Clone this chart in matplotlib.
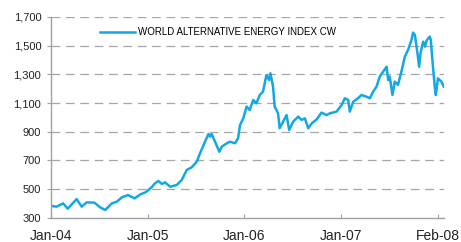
import numpy as np
import matplotlib
matplotlib.use("Agg")
import matplotlib.pyplot as plt

plt.rcParams['font.family'] = ['Liberation Sans', 'DejaVu Sans']

# index level
dates = [
    "2004-01-03", "2004-01-22", "2004-02-16", "2004-03-04", "2004-04-07", "2004-04-26",
    "2004-05-15", "2004-06-13", "2004-07-05", "2004-07-24", "2004-08-18", "2004-09-06",
    "2004-09-25", "2004-10-18", "2004-11-12", "2004-12-04", "2004-12-23",
    "2005-01-15", "2005-01-28", "2005-02-10", "2005-02-23", "2005-03-07", "2005-03-26",
    "2005-04-20", "2005-05-09", "2005-05-28", "2005-06-16", "2005-07-05", "2005-07-17",
    "2005-08-05", "2005-08-18", "2005-08-24", "2005-08-30", "2005-09-12", "2005-09-28",
    "2005-10-07", "2005-10-26", "2005-11-07", "2005-11-26", "2005-12-08", "2005-12-15",
    "2005-12-28",
    "2006-01-09", "2006-01-21", "2006-02-03", "2006-02-15", "2006-02-28", "2006-03-12",
    "2006-03-25", "2006-04-04", "2006-04-09", "2006-04-19", "2006-04-25", "2006-05-02",
    "2006-05-08", "2006-05-14", "2006-05-27", "2006-06-09", "2006-06-19", "2006-07-04",
    "2006-07-23", "2006-08-05", "2006-08-17", "2006-08-30", "2006-09-12", "2006-10-01",
    "2006-10-19", "2006-11-07", "2006-11-20", "2006-12-15",
    "2007-01-03", "2007-01-15", "2007-01-28", "2007-02-03", "2007-02-16", "2007-03-06",
    "2007-03-19", "2007-04-07", "2007-04-20", "2007-05-02", "2007-05-15", "2007-05-27",
    "2007-06-09", "2007-06-22", "2007-06-28", "2007-07-04", "2007-07-14", "2007-07-23",
    "2007-08-04", "2007-08-17", "2007-08-30", "2007-09-11", "2007-09-24", "2007-09-30",
    "2007-10-07", "2007-10-15", "2007-10-23", "2007-10-28", "2007-11-07", "2007-11-14",
    "2007-11-20", "2007-12-02", "2007-12-06", "2007-12-12", "2007-12-21", "2007-12-25",
    "2008-01-02", "2008-01-15", "2008-01-24",
]
values = [
    382, 377, 400, 363, 430, 377,
    407, 405, 372, 354, 400, 412,
    442, 458, 435, 463, 477,
    512, 540, 556, 535, 547, 516,
    528, 563, 633, 652, 691, 749,
    830, 884, 865, 884, 830, 760,
    795, 819, 830, 819, 854, 945,
    995,
    1075, 1051, 1121, 1098, 1156, 1179,
    1295, 1260, 1307, 1214, 1075, 1051,
    1028, 924, 970, 1016, 912, 970,
    1005, 982, 993, 924, 958, 986,
    1033, 1016, 1028, 1040,
    1086, 1133, 1121, 1040, 1109, 1133,
    1156, 1144, 1133, 1179, 1214, 1284,
    1319, 1353, 1260, 1284, 1156, 1249,
    1226, 1319, 1423, 1470, 1540, 1591,
    1574, 1470, 1353, 1447, 1528, 1493,
    1535, 1563, 1540, 1400, 1214, 1156,
    1272, 1249, 1214,
]
series_name = "WORLD ALTERNATIVE ENERGY INDEX CW"

tick_dates = ["2004-01-01", "2005-01-01", "2006-01-01", "2007-01-01", "2008-01-01"]
tick_labels = ["Jan-04", "Jan-05", "Jan-06", "Jan-07", "Feb-08"]
y_ticks = [300, 500, 700, 900, 1100, 1300, 1500, 1700]

x = np.array(dates, dtype="datetime64[D]")

fig = plt.figure(figsize=(4.61, 2.42), dpi=100)
ax = fig.add_axes([0.1106, 0.1004, 0.852, 0.8294])

ax.plot(x, values, color="#12a8e3", lw=1.8, label=series_name)

ax.set_ylim(300, 1700)
ax.set_yticks(y_ticks)
ax.set_yticklabels([f"{v:,}" for v in y_ticks])
ax.set_xlim(np.datetime64("2004-01-01"), np.datetime64("2008-01-24"))
ax.set_xticks(np.array(tick_dates, dtype="datetime64[D]"))
ax.set_xticklabels(tick_labels)

# dashed grid
for v in y_ticks[1:]:
    ax.axhline(v, color="#a6a6a6", lw=0.9, ls=(0, (7, 4.5)), zorder=0)

for s in ["top", "right"]:
    ax.spines[s].set_visible(False)
for s in ["left", "bottom"]:
    ax.spines[s].set_color("#a0a0a0")
    ax.spines[s].set_linewidth(1.0)

ax.tick_params(axis="y", direction="out", length=3, labelsize=8, pad=4, colors="#222222")
ax.tick_params(axis="y", color="#a0a0a0")
ax.tick_params(axis="x", direction="in", length=3, color="#a0a0a0", labelsize=10, pad=8, labelcolor="#222222")

ax.legend(loc="center left", bbox_to_anchor=(0.125, 0.924), frameon=False, fontsize=7,
          handlelength=3.6, handletextpad=0.25, borderpad=0, borderaxespad=0)

fig.savefig("out.png", dpi=100)
